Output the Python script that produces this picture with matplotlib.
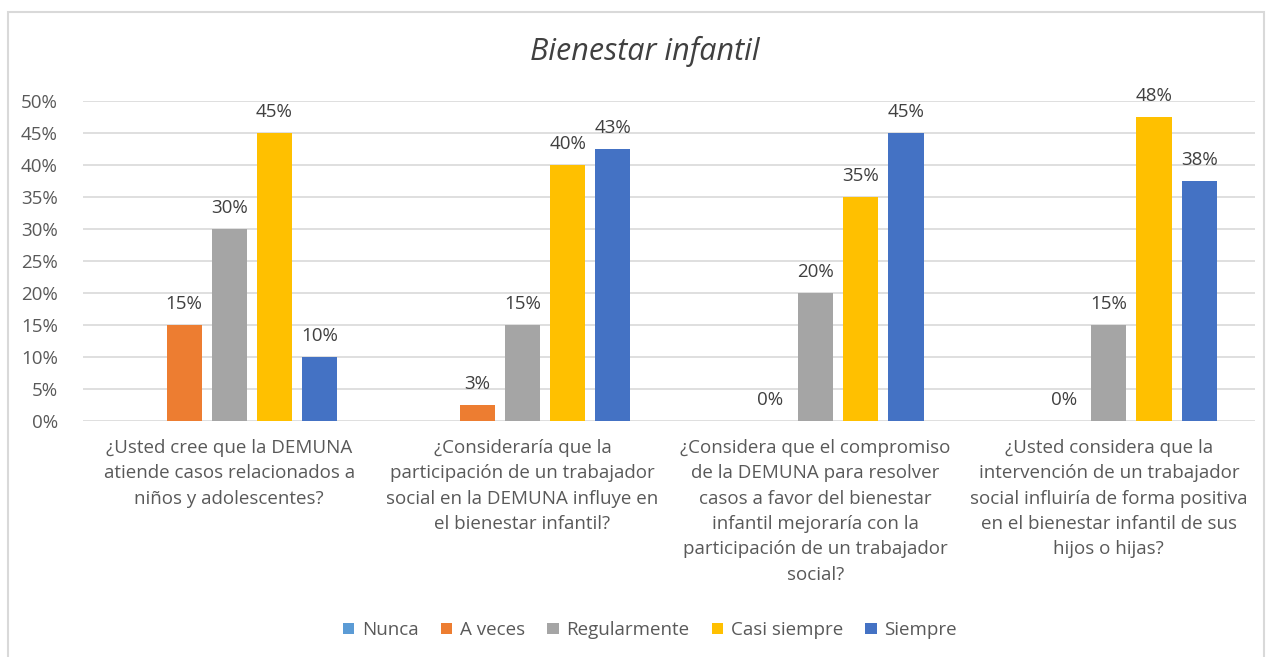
import numpy as np
import matplotlib.pyplot as plt
from matplotlib.patches import Rectangle

plt.rcParams['font.family'] = ['Open Sans', 'DejaVu Sans']

# datos
preguntas = [
    "¿Usted cree que la DEMUNA\natiende casos relacionados a\nniños y adolescentes?",
    "¿Consideraría que la\nparticipación de un trabajador\nsocial en la DEMUNA influye en\nel bienestar infantil?",
    "¿Considera que el compromiso\nde la DEMUNA para resolver\ncasos a favor del bienestar\ninfantil mejoraría con la\nparticipación de un trabajador\nsocial?",
    "¿Usted considera que la\nintervención de un trabajador\nsocial influiría de forma positiva\nen el bienestar infantil de sus\nhijos o hijas?",
]
series = ["Nunca", "A veces", "Regularmente", "Casi siempre", "Siempre"]
nunca = [np.nan, np.nan, np.nan, np.nan]
a_veces = [15, 2.5, 0, 0]
regularmente = [30, 15, 20, 15]
casi_siempre = [45, 40, 35, 47.5]
siempre = [10, 42.5, 45, 37.5]
colores = ["#5B9BD5", "#ED7D31", "#A5A5A5", "#FFC000", "#4472C4"]

valores = [nunca, a_veces, regularmente, casi_siempre, siempre]

fig = plt.figure(figsize=(12.72, 6.57), dpi=100)
ax = fig.add_axes([0.065, 0.359, 0.922, 0.487])

x = np.arange(len(preguntas))
paso = 0.154
ancho = 0.12
for i, (nombre, vals, c) in enumerate(zip(series, valores, colores)):
    pos = x + (i - 2) * paso
    ax.bar(pos, vals, width=ancho, color=c, label=nombre, zorder=3)
    for p, v in zip(pos, vals):
        if not np.isnan(v):
            ax.text(p, v + 1.9, f"{int(v + 0.5)}%",
                    ha='center', va='bottom', fontsize=13.5, color='#404040')

ax.set_xlim(-0.5, len(preguntas) - 0.5)
ax.set_ylim(0, 50)
ax.set_yticks(range(0, 51, 5))
ax.set_yticklabels([f"{t}%" for t in range(0, 51, 5)], fontsize=13.5, color='#595959')
ax.set_xticks(x)
ax.set_xticklabels(preguntas, fontsize=13.5, color='#595959', linespacing=1.52, va='top')
ax.tick_params(axis='both', length=0)
ax.tick_params(axis='x', pad=13)
ax.tick_params(axis='y', pad=18)
ax.grid(axis='y', color='#D9D9D9', linewidth=1.2, zorder=0)
for s in ax.spines.values():
    s.set_visible(False)

fig.text(0.507, 0.921, "Bienestar infantil", ha='center', va='center',
         fontsize=22, style='italic', color='#404040')

handles, labels = ax.get_legend_handles_labels()
fig.legend(handles, labels, loc='center', bbox_to_anchor=(0.511, 0.041), ncol=5,
           frameon=False, fontsize=13.5, handlelength=0.6, handleheight=0.6,
           handletextpad=0.4, columnspacing=1.2, labelcolor='#595959')

fig.patches.append(Rectangle((0.006, -0.01), 0.988, 0.992, transform=fig.transFigure,
                             fill=False, edgecolor='#D9D9D9', linewidth=1.5))

fig.savefig("out.png", dpi=100)
